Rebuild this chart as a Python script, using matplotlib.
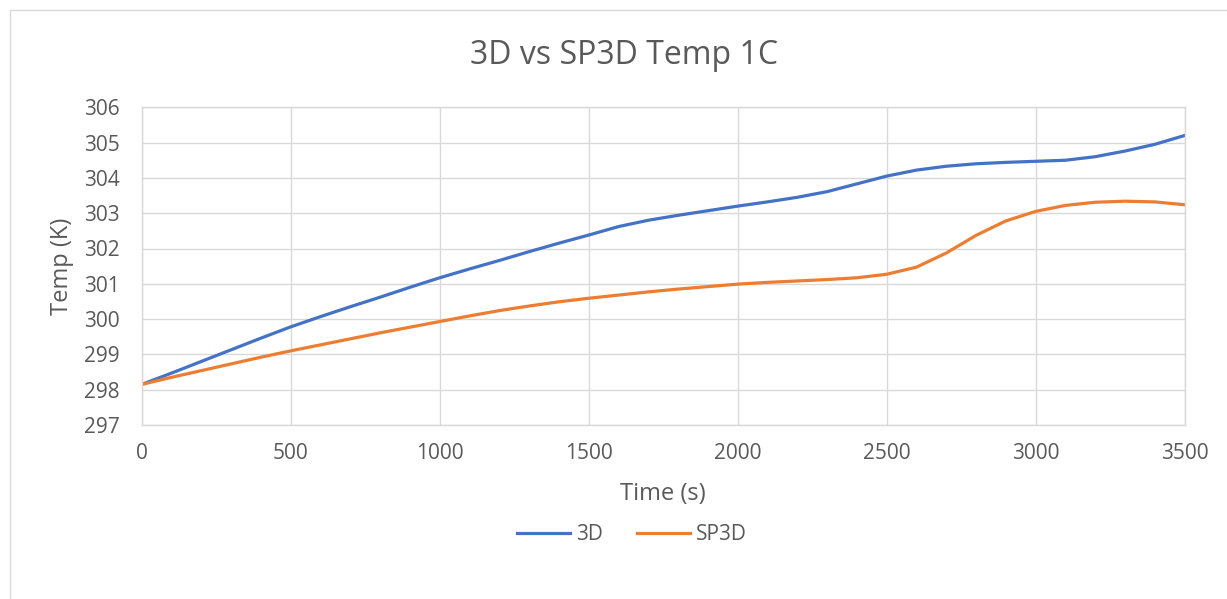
import matplotlib
matplotlib.use("Agg")
import matplotlib.pyplot as plt
from matplotlib.patches import Rectangle

time_s = [0, 100, 200, 300, 400, 500, 600, 700, 800, 900, 1000, 1100, 1200, 1300,
          1400, 1500, 1600, 1700, 1800, 1900, 2000, 2100, 2200, 2300, 2400, 2500,
          2600, 2700, 2800, 2900, 3000, 3100, 3200, 3300, 3400, 3500]
temp_3d = [298.15, 298.47, 298.80, 299.13, 299.46, 299.78, 300.07, 300.35, 300.62,
           300.90, 301.17, 301.42, 301.66, 301.91, 302.15, 302.38, 302.62, 302.80,
           302.94, 303.07, 303.20, 303.32, 303.45, 303.61, 303.83, 304.05, 304.22,
           304.33, 304.40, 304.44, 304.47, 304.50, 304.60, 304.76, 304.95, 305.20]
temp_sp3d = [298.15, 298.35, 298.54, 298.73, 298.92, 299.10, 299.27, 299.44, 299.61,
             299.77, 299.93, 300.09, 300.24, 300.37, 300.49, 300.59, 300.68, 300.77,
             300.85, 300.92, 300.99, 301.04, 301.08, 301.12, 301.17, 301.27, 301.47,
             301.87, 302.37, 302.78, 303.05, 303.22, 303.31, 303.34, 303.32, 303.24]
series_names = ["3D", "SP3D"]
x_ticks = [0, 500, 1000, 1500, 2000, 2500, 3000, 3500]
y_ticks = [297, 298, 299, 300, 301, 302, 303, 304, 305, 306]

plt.rcParams['font.family'] = ['Open Sans', 'DejaVu Sans']
txt = '#595959'
grid = '#d9d9d9'

W, H = 1227, 599
fig = plt.figure(figsize=(W / 100, H / 100), dpi=100)
fig.patches.append(Rectangle((10 / W, -0.01), 1.02, 1 - 10 / H + 0.01,
                             transform=fig.transFigure, fill=False,
                             edgecolor=grid, linewidth=1))

ax = fig.add_axes([141.7 / W, 1 - 425 / H, (1184.5 - 141.7) / W, (425 - 107.3) / H])
ax.plot(time_s, temp_3d, color='#4472C4', linewidth=2.3, label=series_names[0])
ax.plot(time_s, temp_sp3d, color='#ED7D31', linewidth=2.3, label=series_names[1])

ax.set_xlim(0, 3500)
ax.set_ylim(297, 306)
ax.set_xticks(x_ticks)
ax.set_yticks(y_ticks)
ax.grid(True, color=grid, linewidth=1)
ax.set_axisbelow(True)
for s in ax.spines.values():
    s.set_color(grid)
    s.set_linewidth(1)
ax.tick_params(axis='x', length=0, labelsize=15, labelcolor=txt, pad=13)
ax.tick_params(axis='y', length=0, labelsize=15, labelcolor=txt, pad=16)
ax.set_xlabel("Time (s)", fontsize=17, color=txt, va='center')
ax.set_ylabel("Temp (K)", fontsize=17, color=txt, va='center')
ax.xaxis.set_label_coords(0.5, (425 - 494) / 317.7)
ax.yaxis.set_label_coords((61.7 - 141.7) / 1042.8, 0.5)

fig.text(624 / W, 1 - 55 / H, "3D vs SP3D Temp 1C", ha='center', va='center',
         fontsize=23, color=txt)

fig.legend(loc='center', bbox_to_anchor=(632 / W, 1 - 535 / H), ncol=2,
           frameon=False, fontsize=15, labelcolor=txt, handlelength=2.55,
           columnspacing=1.6, handletextpad=0.3)

fig.savefig("out.png", dpi=100, facecolor='white')
